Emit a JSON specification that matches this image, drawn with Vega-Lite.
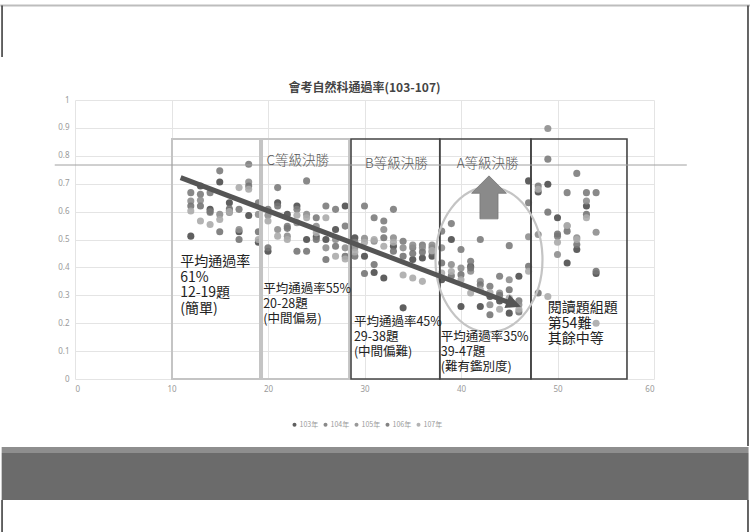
{
"$schema": "https://vega.github.io/schema/vega-lite/v6.json",
"width": 579, "height": 279,
"autosize": {"type": "none"},
"padding": {"left": 75, "top": 100, "right": 96, "bottom": 153},
"background": "white",
"title": {"text": "會考自然科通過率(103-107)", "fontSize": 12, "fontWeight": "bold", "color": "#444444", "font": "Noto Sans CJK TC", "offset": 0, "dy": 90, "anchor": "middle", "frame": "group"},
"config": {"view": {"stroke": null}, "font": "Noto Sans CJK TC"},
"datasets": {
"pts": [
{"q":12,"year":"103年","rate":0.512},{"q":12,"year":"104年","rate":0.668},{"q":12,"year":"105年","rate":0.638},{"q":12,"year":"106年","rate":0.62},{"q":12,"year":"107年","rate":0.602},
{"q":13,"year":"103年","rate":0.692},{"q":13,"year":"104年","rate":0.662},{"q":13,"year":"105年","rate":0.641},{"q":13,"year":"106年","rate":0.62},{"q":13,"year":"107年","rate":0.566},
{"q":14,"year":"103年","rate":0.608},{"q":14,"year":"104年","rate":0.668},{"q":14,"year":"105年","rate":0.597},{"q":14,"year":"106年","rate":0.6},{"q":14,"year":"107年","rate":0.554},
{"q":15,"year":"103年","rate":0.706},{"q":15,"year":"104年","rate":0.746},{"q":15,"year":"105年","rate":0.59},{"q":15,"year":"106年","rate":0.528},{"q":15,"year":"107年","rate":0.572},
{"q":16,"year":"103年","rate":0.632},{"q":16,"year":"104年","rate":0.605},{"q":16,"year":"105年","rate":0.597},{"q":16,"year":"106年","rate":0.61},{"q":16,"year":"107年","rate":0.6},
{"q":17,"year":"103年","rate":0.528},{"q":17,"year":"104年","rate":0.608},{"q":17,"year":"105年","rate":0.536},{"q":17,"year":"106年","rate":0.5},{"q":17,"year":"107年","rate":0.686},
{"q":18,"year":"103年","rate":0.586},{"q":18,"year":"104年","rate":0.77},{"q":18,"year":"105年","rate":0.706},{"q":18,"year":"106年","rate":0.692},{"q":18,"year":"107年","rate":0.68},
{"q":19,"year":"103年","rate":0.49},{"q":19,"year":"104年","rate":0.632},{"q":19,"year":"105年","rate":0.59},{"q":19,"year":"106年","rate":0.528},{"q":19,"year":"107年","rate":0.5},
{"q":20,"year":"103年","rate":0.458},{"q":20,"year":"104年","rate":0.608},{"q":20,"year":"105年","rate":0.587},{"q":20,"year":"106年","rate":0.47},{"q":20,"year":"107年","rate":0.566},
{"q":21,"year":"103年","rate":0.632},{"q":21,"year":"104年","rate":0.686},{"q":21,"year":"105年","rate":0.536},{"q":21,"year":"106年","rate":0.62},{"q":21,"year":"107年","rate":0.512},
{"q":22,"year":"103年","rate":0.59},{"q":22,"year":"104年","rate":0.547},{"q":22,"year":"105年","rate":0.512},{"q":22,"year":"106年","rate":0.54},{"q":22,"year":"107年","rate":0.5},
{"q":23,"year":"103年","rate":0.62},{"q":23,"year":"104年","rate":0.608},{"q":23,"year":"105年","rate":0.56},{"q":23,"year":"106年","rate":0.458},{"q":23,"year":"107年","rate":0.587},
{"q":24,"year":"103年","rate":0.5},{"q":24,"year":"104年","rate":0.71},{"q":24,"year":"105年","rate":0.59},{"q":24,"year":"106年","rate":0.458},{"q":24,"year":"107年","rate":0.578},
{"q":25,"year":"103年","rate":0.51},{"q":25,"year":"104年","rate":0.578},{"q":25,"year":"105年","rate":0.547},{"q":25,"year":"106年","rate":0.5},{"q":25,"year":"107年","rate":0.524},
{"q":26,"year":"103年","rate":0.5},{"q":26,"year":"104年","rate":0.62},{"q":26,"year":"105年","rate":0.47},{"q":26,"year":"106年","rate":0.428},{"q":26,"year":"107年","rate":0.578},
{"q":27,"year":"103年","rate":0.536},{"q":27,"year":"104年","rate":0.608},{"q":27,"year":"105年","rate":0.5},{"q":27,"year":"106年","rate":0.476},{"q":27,"year":"107年","rate":0.44},
{"q":28,"year":"103年","rate":0.62},{"q":28,"year":"104年","rate":0.548},{"q":28,"year":"105年","rate":0.47},{"q":28,"year":"106年","rate":0.44},{"q":28,"year":"107年","rate":0.43},
{"q":29,"year":"103年","rate":0.506},{"q":29,"year":"104年","rate":0.49},{"q":29,"year":"105年","rate":0.47},{"q":29,"year":"106年","rate":0.44},{"q":29,"year":"107年","rate":0.455},
{"q":30,"year":"103年","rate":0.44},{"q":30,"year":"104年","rate":0.62},{"q":30,"year":"105年","rate":0.504},{"q":30,"year":"106年","rate":0.378},{"q":30,"year":"107年","rate":0.49},
{"q":31,"year":"103年","rate":0.382},{"q":31,"year":"104年","rate":0.578},{"q":31,"year":"105年","rate":0.494},{"q":31,"year":"106年","rate":0.41},{"q":31,"year":"107年","rate":0.5},
{"q":32,"year":"103年","rate":0.362},{"q":32,"year":"104年","rate":0.566},{"q":32,"year":"105年","rate":0.536},{"q":32,"year":"106年","rate":0.506},{"q":32,"year":"107年","rate":0.476},
{"q":33,"year":"103年","rate":0.476},{"q":33,"year":"104年","rate":0.608},{"q":33,"year":"105年","rate":0.506},{"q":33,"year":"106年","rate":0.458},{"q":33,"year":"107年","rate":0.49},
{"q":34,"year":"103年","rate":0.255},{"q":34,"year":"104年","rate":0.494},{"q":34,"year":"105年","rate":0.47},{"q":34,"year":"106年","rate":0.44},{"q":34,"year":"107年","rate":0.373},
{"q":35,"year":"103年","rate":0.428},{"q":35,"year":"104年","rate":0.47},{"q":35,"year":"105年","rate":0.48},{"q":35,"year":"106年","rate":0.45},{"q":35,"year":"107年","rate":0.362},
{"q":36,"year":"103年","rate":0.434},{"q":36,"year":"104年","rate":0.48},{"q":36,"year":"105年","rate":0.47},{"q":36,"year":"106年","rate":0.455},{"q":36,"year":"107年","rate":0.35},
{"q":37,"year":"103年","rate":0.44},{"q":37,"year":"104年","rate":0.47},{"q":37,"year":"105年","rate":0.48},{"q":37,"year":"106年","rate":0.455},{"q":37,"year":"107年","rate":0.46},
{"q":38,"year":"103年","rate":0.356},{"q":38,"year":"104年","rate":0.53},{"q":38,"year":"105年","rate":0.47},{"q":38,"year":"106年","rate":0.416},{"q":38,"year":"107年","rate":0.38},
{"q":39,"year":"103年","rate":0.5},{"q":39,"year":"104年","rate":0.557},{"q":39,"year":"105年","rate":0.41},{"q":39,"year":"106年","rate":0.37},{"q":39,"year":"107年","rate":0.385},
{"q":40,"year":"103年","rate":0.26},{"q":40,"year":"104年","rate":0.464},{"q":40,"year":"105年","rate":0.398},{"q":40,"year":"106年","rate":0.374},{"q":40,"year":"107年","rate":0.356},
{"q":41,"year":"103年","rate":0.404},{"q":41,"year":"104年","rate":0.422},{"q":41,"year":"105年","rate":0.386},{"q":41,"year":"106年","rate":0.398},{"q":41,"year":"107年","rate":0.308},
{"q":42,"year":"103年","rate":0.26},{"q":42,"year":"104年","rate":0.5},{"q":42,"year":"105年","rate":0.35},{"q":42,"year":"106年","rate":0.338},{"q":42,"year":"107年","rate":0.32},
{"q":43,"year":"103年","rate":0.296},{"q":43,"year":"104年","rate":0.332},{"q":43,"year":"105年","rate":0.266},{"q":43,"year":"106年","rate":0.23},{"q":43,"year":"107年","rate":0.31},
{"q":44,"year":"103年","rate":0.28},{"q":44,"year":"104年","rate":0.368},{"q":44,"year":"105年","rate":0.308},{"q":44,"year":"106年","rate":0.3},{"q":44,"year":"107年","rate":0.25},
{"q":45,"year":"103年","rate":0.236},{"q":45,"year":"104年","rate":0.478},{"q":45,"year":"105年","rate":0.356},{"q":45,"year":"106年","rate":0.32},{"q":45,"year":"107年","rate":0.29},
{"q":46,"year":"103年","rate":0.368},{"q":46,"year":"104年","rate":0.28},{"q":46,"year":"105年","rate":0.266},{"q":46,"year":"106年","rate":0.24},{"q":46,"year":"107年","rate":0.25},
{"q":47,"year":"103年","rate":0.71},{"q":47,"year":"104年","rate":0.632},{"q":47,"year":"105年","rate":0.51},{"q":47,"year":"106年","rate":0.404},{"q":47,"year":"107年","rate":0.386},
{"q":48,"year":"103年","rate":0.67},{"q":48,"year":"104年","rate":0.692},{"q":48,"year":"105年","rate":0.518},{"q":48,"year":"106年","rate":0.308},{"q":48,"year":"107年","rate":0.68},
{"q":49,"year":"103年","rate":0.698},{"q":49,"year":"104年","rate":0.788},{"q":49,"year":"105年","rate":0.898},{"q":49,"year":"106年","rate":0.598},{"q":49,"year":"107年","rate":0.296},
{"q":50,"year":"103年","rate":0.578},{"q":50,"year":"104年","rate":0.512},{"q":50,"year":"105年","rate":0.446},{"q":50,"year":"106年","rate":0.52},{"q":50,"year":"107年","rate":0.49},
{"q":51,"year":"103年","rate":0.416},{"q":51,"year":"104年","rate":0.668},{"q":51,"year":"105年","rate":0.548},{"q":51,"year":"106年","rate":0.53},{"q":51,"year":"107年","rate":0.55},
{"q":52,"year":"103年","rate":0.464},{"q":52,"year":"104年","rate":0.737},{"q":52,"year":"105年","rate":0.506},{"q":52,"year":"106年","rate":0.482},{"q":52,"year":"107年","rate":0.5},
{"q":53,"year":"103年","rate":0.62},{"q":53,"year":"104年","rate":0.668},{"q":53,"year":"105年","rate":0.638},{"q":53,"year":"106年","rate":0.59},{"q":53,"year":"107年","rate":0.578},
{"q":54,"year":"103年","rate":0.378},{"q":54,"year":"104年","rate":0.668},{"q":54,"year":"105年","rate":0.526},{"q":54,"year":"106年","rate":0.386},{"q":54,"year":"107年","rate":0.2}
],
"boxes": [
{"box":"c1","x1":10.05,"x2":19.17},
{"box":"c2","x1":19.38,"x2":28.4},
{"box":"B","x1":28.6,"x2":37.8},
{"box":"A","x1":37.8,"x2":47.25},
{"box":"R","x1":47.25,"x2":57.2}
],
"trend": [{"x":10.95,"y":0.722},{"x":45.1,"y":0.2727}],
"notes": [
{"grp":"big","x":10.9,"y":0.444,"label":"平均通過率\n61%\n12-19題\n(簡單)"},
{"grp":"mid","x":19.5,"y":0.344,"label":"平均通過率55%\n20-28題\n(中間偏易)"},
{"grp":"mid","x":28.9,"y":0.227,"label":"平均通過率45%\n29-38題\n(中間偏難)"},
{"grp":"mid","x":37.9,"y":0.173,"label":"平均通過率35%\n39-47題\n(難有鑑別度)"},
{"grp":"big","x":49.0,"y":0.278,"label":"閱讀題組題\n第54難\n其餘中等"},
{"grp":"rank","x":19.85,"y":0.805,"label":"C等級決勝"},
{"grp":"rank","x":30.05,"y":0.797,"label":"B等級決勝"},
{"grp":"rank","x":39.55,"y":0.797,"label":"A等級決勝"}
]
},
"layer": [
{"data":{"name":"pts"},"mark":{"type":"point","filled":true,"size":50,"opacity":0.9},
 "encoding":{
  "x":{"field":"q","type":"quantitative","scale":{"domain":[0,60],"nice":false,"zero":false},
       "axis":{"values":[0,10,20,30,40,50,60],"tickCount":20,"title":null,"grid":true,"gridColor":"#e4e4e4","domain":false,"ticks":false,"labelColor":"#9a9a9a","labelFontSize":8,"labelPadding":6,"labelFont":"Noto Sans","labelOverlap":false}},
  "y":{"field":"rate","type":"quantitative","scale":{"domain":[0,1],"nice":false,"zero":false},
       "axis":{"values":[0,0.1,0.2,0.3,0.4,0.5,0.6,0.7,0.8,0.9,1],"tickCount":20,"format":"~g","title":null,"grid":true,"gridColor":"#e4e4e4","domain":false,"ticks":false,"labelColor":"#9a9a9a","labelFontSize":8,"labelPadding":6,"labelFont":"Noto Sans","labelOverlap":false}},
  "color":{"field":"year","type":"nominal","scale":{"domain":["103年","104年","105年","106年","107年"],"range":["#4e4e4e","#7c7c7c","#8e8e8e","#767676","#ababab"]},
       "legend":{"orient":"none","legendX":216,"legendY":321,"direction":"horizontal","title":null,"symbolType":"circle","symbolSize":16,"labelFontSize":7,"labelColor":"#9a9a9a","labelFont":"Noto Sans CJK TC","columnPadding":3,"labelOffset":1.5}}
 }},
{"data":{"values":[{}]},"mark":{"type":"rect","color":"#8e8e8e"},"encoding":{"x":{"datum":-7.6,"title":null},"x2":{"datum":69.8},"y":{"datum":-0.2437,"title":null},"y2":{"datum":-0.265}}},
{"data":{"values":[{}]},"mark":{"type":"rect","color":"#6b6b6b"},"encoding":{"x":{"datum":-7.6,"title":null},"x2":{"datum":69.8},"y":{"datum":-0.265,"title":null},"y2":{"datum":-0.4337}}},
{"data":{"values":[{}]},"mark":{"type":"rule","color":"#bdbdbd","strokeWidth":2},"encoding":{"x":{"datum":-7.75,"title":null},"x2":{"datum":69.95},"y":{"datum":1.3387,"title":null}}},
{"data":{"values":[{}]},"mark":{"type":"rule","color":"#333333","strokeWidth":1.5},"encoding":{"x":{"datum":-7.56,"title":null},"y":{"datum":1.3387,"title":null},"y2":{"datum":1.154}}},
{"data":{"values":[{}]},"mark":{"type":"rule","color":"#333333","strokeWidth":1.5},"encoding":{"x":{"datum":69.74,"title":null},"y":{"datum":1.3387,"title":null},"y2":{"datum":-0.24}}},
{"data":{"values":[{}]},"mark":{"type":"rule","color":"#333333","strokeWidth":1.5},"encoding":{"x":{"datum":-7.56,"title":null},"y":{"datum":-0.4337,"title":null},"y2":{"datum":-0.55}}},
{"data":{"values":[{}]},"mark":{"type":"rule","color":"#333333","strokeWidth":1.5},"encoding":{"x":{"datum":69.74,"title":null},"y":{"datum":-0.4337,"title":null},"y2":{"datum":-0.55}}},
{"data":{"name":"boxes"},"transform":[{"filter":{"field":"box","oneOf":["c1","c2"]}}],"mark":{"type":"rect","fill":null,"fillOpacity":0,"stroke":"#c4c4c4","strokeWidth":2},
 "encoding":{"x":{"field":"x1","type":"quantitative","title":null},"x2":{"field":"x2"},"y":{"datum":0,"title":null},"y2":{"datum":0.86}}},
{"data":{"name":"boxes"},"transform":[{"filter":{"field":"box","oneOf":["B","A","R"]}}],"mark":{"type":"rect","fill":null,"fillOpacity":0,"stroke":"#444444","strokeWidth":1.6},
 "encoding":{"x":{"field":"x1","type":"quantitative","title":null},"x2":{"field":"x2"},"y":{"datum":0,"title":null},"y2":{"datum":0.86}}},
{"data":{"values":[{}]},"mark":{"type":"rule","color":"#a0a0a0","strokeWidth":1},"encoding":{"x":{"datum":-2.1,"title":null},"x2":{"datum":63.4},"y":{"datum":0.767,"title":null}}},
{"data":{"values":[{}]},"mark":{"type":"point","filled":false,"stroke":"#c4c4c4","strokeWidth":2.2,"opacity":1,"size":21025,"shape":"M-0.738,0A0.738,1,0,1,1,0.738,0A0.738,1,0,1,1,-0.738,0Z"},
 "encoding":{"x":{"datum":42.9,"title":null},"y":{"datum":0.428,"title":null}}},
{"data":{"values":[{}]},"mark":{"type":"point","filled":true,"fill":"#8a8a8a","stroke":"#777777","strokeWidth":0.8,"opacity":1,"size":1849,"shape":"M0,-1L0.81,-0.19L0.42,-0.19L0.42,1L-0.42,1L-0.42,-0.19L-0.81,-0.19Z"},
 "encoding":{"x":{"datum":42.9,"title":null},"y":{"datum":0.651,"title":null}}},
{"data":{"name":"trend"},"mark":{"type":"line","color":"#555555","strokeWidth":5,"strokeCap":"butt"},
 "encoding":{"x":{"field":"x","type":"quantitative","title":null},"y":{"field":"y","type":"quantitative","title":null}}},
{"data":{"values":[{}]},"mark":{"type":"point","filled":true,"color":"#555555","opacity":1,"size":225,"angle":20.8,"shape":"M1,0L-1,-0.95L-1,0.95Z"},
 "encoding":{"x":{"datum":45.49,"title":null},"y":{"datum":0.2687,"title":null}}},
{"data":{"name":"notes"},"transform":[{"filter":{"field":"grp","equal":"big"}}],"mark":{"type":"text","align":"left","baseline":"top","lineBreak":"\n","fontSize":14,"lineHeight":15.5,"color":"#222222","font":"Noto Sans CJK TC"},
 "encoding":{"x":{"field":"x","type":"quantitative","title":null},"y":{"field":"y","type":"quantitative","title":null},"text":{"field":"label"}}},
{"data":{"name":"notes"},"transform":[{"filter":{"field":"grp","equal":"mid"}}],"mark":{"type":"text","align":"left","baseline":"top","lineBreak":"\n","fontSize":12.5,"lineHeight":15,"color":"#222222","font":"Noto Sans CJK TC"},
 "encoding":{"x":{"field":"x","type":"quantitative","title":null},"y":{"field":"y","type":"quantitative","title":null},"text":{"field":"label"}}},
{"data":{"name":"notes"},"transform":[{"filter":{"field":"grp","equal":"rank"}}],"mark":{"type":"text","align":"left","baseline":"top","fontSize":13.5,"fontWeight":300,"color":"#555555","font":"Noto Sans CJK TC"},
 "encoding":{"x":{"field":"x","type":"quantitative","title":null},"y":{"field":"y","type":"quantitative","title":null},"text":{"field":"label"}}}
]
}
